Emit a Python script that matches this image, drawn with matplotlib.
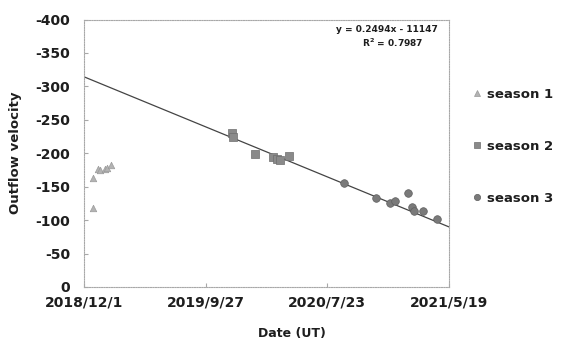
import matplotlib
matplotlib.use("Agg")
import matplotlib.pyplot as plt
from matplotlib.lines import Line2D
import pandas as pd

plt.rcParams["font.family"] = ["DejaVu Sans"]
plt.rcParams["font.weight"] = "bold"

# Observations (date in UT, outflow velocity)
season1_dates = ["2018-12-24", "2018-12-24", "2019-01-04", "2019-01-09",
                 "2019-01-22", "2019-01-27", "2019-02-05"]
season1_vel = [-163, -118, -176, -175, -176, -178, -183]

season2_dates = ["2019-12-02", "2019-12-04", "2020-01-27", "2020-03-12",
                 "2020-03-22", "2020-03-28", "2020-04-20"]
season2_vel = [-230, -225, -199, -194, -191, -190, -196]

season3_dates = ["2020-09-03", "2020-11-19", "2020-12-25", "2021-01-06",
                 "2021-02-06", "2021-02-17", "2021-02-22", "2021-03-17",
                 "2021-04-19"]
season3_vel = [-155, -133, -125, -128, -140, -120, -113, -113, -101]

# Linear trend (x = spreadsheet day serial)
trend_slope = 0.2494
trend_intercept = -11147
trend_r2 = 0.7987

x_tick_labels = ["2018/12/1", "2019/9/27", "2020/7/23", "2021/5/19"]
y_ticks = [0, -50, -100, -150, -200, -250, -300, -350, -400]

EPOCH = pd.Timestamp("1899-12-30")


def serial(d):
    return (pd.Timestamp(d.replace("/", "-")) - EPOCH).days


x1 = [serial(d) for d in season1_dates]
x2 = [serial(d) for d in season2_dates]
x3 = [serial(d) for d in season3_dates]
xt = [serial(d) for d in x_tick_labels]

TXT = "#1e1e1e"

fig = plt.figure(figsize=(5.63, 3.47), dpi=100)
ax = fig.add_axes([84 / 563, 60 / 347, 365 / 563, 267.5 / 347])

# trend line across the full date range
tx = [xt[0], xt[-1]]
ty = [trend_slope * v + trend_intercept for v in tx]
ax.plot(tx, ty, color="#444444", lw=0.9, zorder=2)

ax.scatter(x1, season1_vel, marker="^", s=22, color="#b3b3b3",
           edgecolors="#9a9a9a", linewidths=0.5, zorder=3)
ax.scatter(x2, season2_vel, marker="s", s=26, color="#8a8a8a",
           edgecolors="#6e6e6e", linewidths=0.5, zorder=3)
ax.scatter(x3, season3_vel, marker="o", s=30, color="#7a7a7a",
           edgecolors="#5e5e5e", linewidths=0.5, zorder=3)

ax.set_xlim(xt[0], xt[-1])
ax.set_ylim(0, -400)
ax.set_xticks(xt)
ax.set_xticklabels(x_tick_labels)
ax.set_yticks(y_ticks)
ax.set_yticklabels([str(v) for v in y_ticks])

for sp in ax.spines.values():
    sp.set_linestyle((0, (1, 1.2)))
    sp.set_color("#a8a8a8")
    sp.set_linewidth(0.8)

ax.tick_params(axis="both", direction="in", length=3, color="#a8a8a8",
               labelsize=10, labelcolor=TXT)
ax.tick_params(axis="y", pad=10)
ax.tick_params(axis="x", pad=6)

ax.set_ylabel("Outflow velocity", fontsize=9.5, color=TXT,
              fontweight="bold")
ax.yaxis.set_label_coords((22 - 84) / 365, 0.5)
ax.set_xlabel("Date (UT)", fontsize=9, color=TXT, fontweight="bold")
ax.xaxis.set_label_coords((292 - 84) / 365, -0.15)

fig.text(387 / 563, 1 - 29 / 347,
         f"y = {trend_slope}x - {abs(trend_intercept)}",
         ha="center", va="center", fontsize=6.5, color=TXT,
         fontweight="bold")
fig.text(393 / 563, 1 - 43 / 347, f"R$^2$ = {trend_r2}",
         ha="center", va="center", fontsize=6.5, color=TXT,
         fontweight="bold")

handles = [
    Line2D([], [], marker="^", ls="none", ms=4, color="#b3b3b3",
           mec="#9a9a9a", mew=0.5, label="season 1"),
    Line2D([], [], marker="s", ls="none", ms=4, color="#8a8a8a",
           mec="#6e6e6e", mew=0.5, label="season 2"),
    Line2D([], [], marker="o", ls="none", ms=4.5, color="#7a7a7a",
           mec="#5e5e5e", mew=0.5, label="season 3"),
]
leg = fig.legend(handles=handles, loc="upper left",
                 bbox_to_anchor=(472 / 563, 1 - 88 / 347),
                 frameon=False, fontsize=9.5, labelspacing=2.95,
                 handlelength=0.7, handletextpad=0.45, borderpad=0,
                 borderaxespad=0)
for t in leg.get_texts():
    t.set_color(TXT)
    t.set_fontweight("bold")

fig.savefig("out.png", dpi=100)
